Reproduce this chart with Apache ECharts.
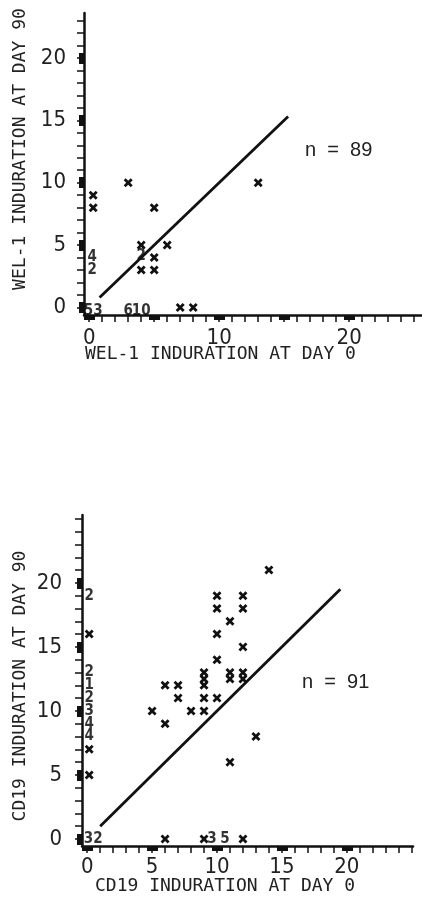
<!DOCTYPE html>
<html>
<head>
<meta charset="utf-8">
<script src="https://cdn.jsdelivr.net/npm/echarts@6/dist/echarts.min.js"></script>
<style>
  html, body { margin: 0; padding: 0; background: #fff; }
  #chart { width: 422px; height: 900px; }
</style>
</head>
<body>
<div id="chart"></div>
<script>
// WEL-1 induration: [day 0, day 90]
const welPoints = [[0, 9], [0, 8], [3, 10], [5, 8], [13, 10], [4, 5], [6, 5], [4, 3], [5, 4], [5, 3], [7, 0], [8, 0]];
// overlapping cases: [day 0, day 90, count]
const welCounts = [[0, 0, 53], [3, 0, 6], [4, 0, 10], [0, 4, 4], [0, 3, 2], [4, 4, 2]];
const welIdentity = [[0.8, 0.8], [15.3, 15.3]];
const welN = 89;

// CD19 induration: [day 0, day 90]
const cd19Points = [
  [14, 21], [10, 19], [12, 19], [10, 18], [12, 18], [11, 17], [0, 16], [10, 16], [12, 15], [10, 14],
  [9, 13], [9, 12.5], [9, 12], [9, 11], [9, 10], [11, 13], [11, 12.5], [12, 13], [12, 12.5],
  [6, 12], [7, 12], [7, 11], [10, 11], [5, 10], [8, 10], [6, 9], [13, 8], [11, 6],
  [0, 7], [0, 5], [6, 0], [9, 0], [12, 0]
];
const cd19Counts = [[0, 19, 2], [0, 13, 2], [0, 12, 1], [0, 11, 2], [0, 10, 3], [0, 9, 4], [0, 8, 4], [0, 0, 32], [10, 0, 3], [11, 0, 5]];
const cd19Identity = [[1, 1], [19.5, 19.5]];
const cd19N = 91;

const welXLabels = [0, 10, 20];
const cd19XLabels = [0, 5, 10, 15, 20];
const yLabels = [0, 5, 10, 15, 20];
const boldTicks = [0, 5, 10, 15, 20];

const ink = '#111';
const tickFont = 'DejaVu Sans Condensed';
const titleFont = '18px "DejaVu Sans Mono"';
const crossPath = 'path://M0,2.2L2.2,0L5,2.8L7.8,0L10,2.2L7.2,5L10,7.8L7.8,10L5,7.2L2.2,10L0,7.8L2.8,5Z';

function unitTicks(max) {
  let a = [];
  for (let v = 0; v <= max; v++) a.push(v);
  return a;
}

function mainAxis(grid, pos, min, max, labels, margin) {
  return {
    gridIndex: grid, type: 'value', position: pos, offset: 0, min: min, max: max,
    axisLine: { onZero: false, lineStyle: { color: ink, width: 2.5 } },
    axisTick: { customValues: unitTicks(Math.floor(max)), length: 7, lineStyle: { color: ink, width: 1.5 } },
    axisLabel: { customValues: labels, margin: margin, color: '#222', fontSize: 22, fontFamily: tickFont },
    splitLine: { show: false }
  };
}

function boldAxis(grid, pos, min, max) {
  return {
    gridIndex: grid, type: 'value', position: pos, offset: 0, min: min, max: max,
    axisLine: { show: false, onZero: false },
    axisTick: { customValues: boldTicks, length: 5, lineStyle: { color: ink, width: 11 } },
    axisLabel: { show: false },
    splitLine: { show: false }
  };
}

function crosses(list, axisIdx, dx) {
  return {
    type: 'scatter', xAxisIndex: axisIdx, yAxisIndex: axisIdx,
    symbol: crossPath, symbolSize: 9,
    itemStyle: { color: ink, opacity: 1 },
    data: list.map(p => ({ value: p, symbolOffset: p[0] === 0 ? [dx, 0] : [0, 0] }))
  };
}

function counts(list, axisIdx, offsetFn) {
  return {
    type: 'scatter', xAxisIndex: axisIdx, yAxisIndex: axisIdx,
    symbolSize: 0,
    label: {
      show: true, position: 'inside', color: '#000',
      fontFamily: tickFont, fontWeight: 'bold', fontSize: 15,
      formatter: p => String(p.value[2])
    },
    data: list.map(p => ({ value: p, label: { offset: offsetFn(p) } }))
  };
}

function identity(list, axisIdx) {
  return {
    type: 'line', xAxisIndex: axisIdx, yAxisIndex: axisIdx,
    symbol: 'none', data: list,
    lineStyle: { color: ink, width: 2.8 }
  };
}

const chart = echarts.init(document.getElementById('chart'));

const option = {
  backgroundColor: '#fff',
  animation: false,
  grid: [
    { left: 84, top: 13, width: 338, height: 302 },
    { left: 82, top: 515, width: 331, height: 331 }
  ],
  xAxis: [
    mainAxis(0, 'bottom', -0.4, 25.6, welXLabels, 12),
    boldAxis(0, 'bottom', -0.4, 25.6),
    mainAxis(1, 'bottom', -0.4, 25.1, cd19XLabels, 10),
    boldAxis(1, 'bottom', -0.4, 25.1)
  ],
  yAxis: [
    mainAxis(0, 'left', -0.6, 23.6, yLabels, 18),
    boldAxis(0, 'left', -0.6, 23.6),
    mainAxis(1, 'left', -0.55, 25.3, yLabels, 20),
    boldAxis(1, 'left', -0.55, 25.3)
  ],
  series: [
    identity(welIdentity, 0),
    crosses(welPoints, 0, 4),
    counts(welCounts, 0, p => {
      if (p[0] === 0 && p[1] === 0) return [4, 4];
      if (p[1] === 0) return [0, 4];
      if (p[0] === 0) return [3, 0];
      return [0, -1];
    }),
    identity(cd19Identity, 2),
    crosses(cd19Points, 2, 2),
    counts(cd19Counts, 2, p => {
      if (p[0] === 0 && p[1] === 0) return [6, 0];
      if (p[1] === 0) return [-5, 0];
      return [2, 0];
    })
  ],
  graphic: [
    { type: 'text', x: 20, y: 149, rotation: Math.PI / 2,
      style: { text: 'WEL-1 INDURATION AT DAY 90', font: titleFont, fill: '#222', textAlign: 'center', textVerticalAlign: 'middle' } },
    { type: 'text', x: 85, y: 354,
      style: { text: 'WEL-1 INDURATION AT DAY 0', font: titleFont, fill: '#222', textAlign: 'left', textVerticalAlign: 'middle' } },
    { type: 'text', x: 305, y: 150,
      style: { text: 'n  =  ' + welN, font: '20px "Liberation Sans"', fill: '#222', textAlign: 'left', textVerticalAlign: 'middle' } },
    { type: 'text', x: 20, y: 686, rotation: Math.PI / 2,
      style: { text: 'CD19 INDURATION AT DAY 90', font: titleFont, fill: '#222', textAlign: 'center', textVerticalAlign: 'middle' } },
    { type: 'text', x: 95, y: 886,
      style: { text: 'CD19 INDURATION AT DAY 0', font: titleFont, fill: '#222', textAlign: 'left', textVerticalAlign: 'middle' } },
    { type: 'text', x: 302, y: 682,
      style: { text: 'n  =  ' + cd19N, font: '20px "Liberation Sans"', fill: '#222', textAlign: 'left', textVerticalAlign: 'middle' } }
  ]
};

chart.setOption(option);
window.addEventListener('resize', function () {
  chart.resize();
});
</script>
</body>
</html>
